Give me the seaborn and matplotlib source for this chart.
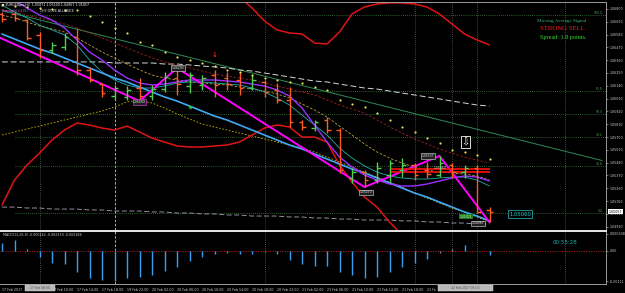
import numpy as np
import pandas as pd
import matplotlib
matplotlib.use("Agg")
import matplotlib.pyplot as plt
import matplotlib.transforms as mtransforms
from matplotlib.patches import Rectangle
import seaborn as sns

sns.set_style("dark", {"axes.facecolor": "black", "figure.facecolor": "black"})
plt.rcParams["font.family"] = ["DejaVu Sans"]

# ---------------- data ----------------
# visible date labels (bar index of each label, text as seen; partly hidden ones shown as seen)
x_label_idx = [0, 4, 6, 8, 10, 12, 14, 16, 18, 20, 22, 24, 26, 28, 30, 32, 34]
x_labels = ["17 Feb 2017", "17 Feb 10:00", "17 Feb 14:00", "17 Feb 18:00",
            "19 Feb 22:00", "20 Feb 02:00", "20 Feb 06:00", "20 Feb 10:00", "20 Feb 14:00",
            "20 Feb 18:00", "20 Feb 22:00", "21 Feb 02:00", "21 Feb 06:00", "21 Feb 10:00",
            "21 Feb 14:00", "21 Feb 18:00", "21 Fe"]

open_ = [1.06757, 1.06757, 1.06705, 1.06577, 1.06448, 1.06473, 1.06559, 1.06276, 1.06155, 1.06052,
         1.06044, 1.06121, 1.06052, 1.06112, 1.06207, 1.06138, 1.06147, 1.06233, 1.06207, 1.06190,
         1.06121, 1.06173, 1.06104, 1.06018, 1.05829, 1.05777, 1.05846, 1.05760, 1.05348, 1.05399,
         1.05330, 1.05373, 1.05416, 1.05459, 1.05416, 1.05373, 1.05459, 1.05399, 1.05434, 1.05071]
high = [1.06774, 1.06774, 1.06714, 1.06602, 1.06516, 1.06594, 1.06637, 1.06302, 1.06164, 1.06147,
        1.06138, 1.06207, 1.06147, 1.06259, 1.06293, 1.06259, 1.06233, 1.06276, 1.06259, 1.06259,
        1.06233, 1.06190, 1.06164, 1.06130, 1.05846, 1.05846, 1.05872, 1.05777, 1.05434, 1.05416,
        1.05485, 1.05502, 1.05519, 1.05477, 1.05485, 1.05537, 1.05477, 1.05459, 1.05459, 1.05100]
low = [1.06688, 1.06697, 1.06534, 1.06379, 1.06422, 1.06448, 1.06233, 1.06173, 1.06044, 1.06018,
       1.06018, 1.06009, 1.06018, 1.06087, 1.06061, 1.06078, 1.06104, 1.06044, 1.06104, 1.06061,
       1.06104, 1.06044, 1.05992, 1.05786, 1.05760, 1.05752, 1.05734, 1.05391, 1.05305, 1.05270,
       1.05305, 1.05313, 1.05356, 1.05330, 1.05348, 1.05356, 1.05348, 1.05348, 1.05047, 1.04967]
close = [1.06714, 1.06723, 1.06551, 1.06448, 1.06491, 1.06559, 1.06276, 1.06190, 1.06078, 1.06121,
         1.06104, 1.06052, 1.06112, 1.06216, 1.06155, 1.06233, 1.06207, 1.06147, 1.06155, 1.06121,
         1.06190, 1.06087, 1.06018, 1.05829, 1.05786, 1.05829, 1.05760, 1.05416, 1.05399, 1.05330,
         1.05434, 1.05477, 1.05459, 1.05373, 1.05382, 1.05477, 1.05399, 1.05434, 1.05056, 1.05057]

ma_blue = [1.06585, 1.06542, 1.06499, 1.06456, 1.06422, 1.06379, 1.06336, 1.06293, 1.06250, 1.06207,
           1.06173, 1.06130, 1.06087, 1.06044, 1.06009, 1.05966, 1.05923, 1.05880, 1.05846, 1.05803,
           1.05760, 1.05717, 1.05674, 1.05631, 1.05597, 1.05554, 1.05511, 1.05468, 1.05425, 1.05391,
           1.05348, 1.05305, 1.05262, 1.05219, 1.05184, 1.05141, 1.05098, 1.05056, 1.05021, 1.04979]
ma_purple = [1.06920, 1.06877, 1.06809, 1.06748, 1.06705, 1.06637, 1.06534, 1.06430, 1.06362, 1.06276,
             1.06207, 1.06164, 1.06147, 1.06155, 1.06173, 1.06190, 1.06190, 1.06190, 1.06181, 1.06173,
             1.06155, 1.06138, 1.06104, 1.06052, 1.05949, 1.05803, 1.05657, 1.05528, 1.05442, 1.05373,
             1.05330, 1.05296, 1.05279, 1.05279, 1.05296, 1.05322, 1.05348, 1.05365, 1.05356, 1.05322]
ma_teal = [1.06834, 1.06774, 1.06723, 1.06662, 1.06620, 1.06577, 1.06491, 1.06362, 1.06259, 1.06190,
           1.06147, 1.06121, 1.06121, 1.06138, 1.06164, 1.06173, 1.06173, 1.06164, 1.06155, 1.06147,
           1.06121, 1.06087, 1.06035, 1.05975, 1.05889, 1.05803, 1.05717, 1.05605, 1.05519, 1.05451,
           1.05399, 1.05365, 1.05348, 1.05339, 1.05339, 1.05348, 1.05356, 1.05356, 1.05330, 1.05279]
ma_olive = [1.06748, 1.06723, 1.06688, 1.06654, 1.06628, 1.06602, 1.06551, 1.06491, 1.06430, 1.06379,
            1.06327, 1.06276, 1.06233, 1.06207, 1.06190, 1.06173, 1.06164, 1.06155, 1.06147, 1.06130,
            1.06112, 1.06095, 1.06070, 1.06035, 1.05984, 1.05932, 1.05872, 1.05794, 1.05717, 1.05640,
            1.05571, 1.05519, 1.05477, 1.05442, 1.05416, 1.05399, 1.05391, 1.05382, 1.05365, 1.05330]
ma_darkred = [1.06791, 1.06774, 1.06748, 1.06723, 1.06697, 1.06671, 1.06637, 1.06594, 1.06551, 1.06508,
              1.06465, 1.06422, 1.06379, 1.06345, 1.06319, 1.06293, 1.06267, 1.06241, 1.06224, 1.06207,
              1.06190, 1.06164, 1.06138, 1.06112, 1.06087, 1.06061, 1.06018, 1.05975, 1.05941, 1.05906,
              1.05846, 1.05786, 1.05734, 1.05683, 1.05640, 1.05597, 1.05562, 1.05528, 1.05502, 1.05477]
ma_white = [1.06345, 1.06345, 1.06345, 1.06345, 1.06345, 1.06345, 1.06345, 1.06345, 1.06345, 1.06336,
            1.06336, 1.06336, 1.06336, 1.06327, 1.06327, 1.06319, 1.06310, 1.06302, 1.06293, 1.06276,
            1.06267, 1.06250, 1.06233, 1.06216, 1.06198, 1.06181, 1.06173, 1.06155, 1.06138, 1.06121,
            1.06112, 1.06095, 1.06078, 1.06061, 1.06044, 1.06027, 1.06009, 1.05992, 1.05975, 1.05966]
ma_gray = [1.05098, 1.05098, 1.05090, 1.05090, 1.05081, 1.05081, 1.05081, 1.05073, 1.05073, 1.05064,
           1.05064, 1.05064, 1.05056, 1.05056, 1.05047, 1.05047, 1.05039, 1.05039, 1.05030, 1.05030,
           1.05021, 1.05021, 1.05021, 1.05013, 1.05013, 1.05004, 1.05004, 1.04995, 1.04995, 1.04987,
           1.04987, 1.04987, 1.04979, 1.04979, 1.04970, 1.04970, 1.04961, 1.04961, 1.04953, 1.04953]
env_lower = [1.05717, 1.05743, 1.05769, 1.05794, 1.05820, 1.05846, 1.05872, 1.05898, 1.05923, 1.05958,
             1.06001, 1.06018, 1.05992, 1.05949, 1.05898, 1.05855, 1.05812, 1.05786, 1.05760, 1.05734,
             1.05709, 1.05683, 1.05657, 1.05631, 1.05605, 1.05571, 1.05528, 1.05485, 1.05442, 1.05399,
             1.05356, 1.05313, 1.05270, 1.05219, 1.05176, 1.05133, 1.05090, 1.05056, 1.05013, 1.04970]
band_upper = [None, None, None, None, None, None, None, None, None, None,
              None, None, 1.07307, 1.07264, 1.07221, 1.07170, 1.07118, 1.07049, 1.06980, 1.06903,
              1.06809, 1.06697, 1.06620, 1.06594, 1.06585, 1.06508, 1.06499, 1.06602, 1.06757, 1.06817,
              1.06843, 1.06852, 1.06852, 1.06843, 1.06817, 1.06757, 1.06671, 1.06585, 1.06534, 1.06491]
band_lower = [1.05116, 1.05330, 1.05459, 1.05562, 1.05674, 1.05760, 1.05820, 1.05803, 1.05777, 1.05760,
              1.05794, 1.05743, 1.05691, 1.05657, 1.05623, 1.05614, 1.05614, 1.05623, 1.05631, 1.05657,
              1.05717, 1.05777, 1.05803, 1.05786, 1.05700, 1.05700, 1.05657, 1.05459, 1.05313, 1.05184,
              1.05098, 1.04970, 1.04858, 1.04772, 1.04729, 1.04712, 1.04703, 1.04712, 1.04729, 1.04746]
sar = [1.06834, 1.06826, 1.06817, 1.06809, 1.06800, 1.06791, 1.06791, 1.06740, 1.06688, 1.06637,
       1.06594, 1.06516, 1.06491, 1.06430, 1.06387, 1.06362, 1.06336, 1.06310, 1.06276, 1.06259,
       1.06233, 1.06207, 1.06190, 1.06173, 1.06164, 1.06130, 1.06104, 1.06018, 1.05984, 1.05958,
       1.05906, 1.05846, 1.05786, 1.05743, 1.05691, 1.05648, 1.05588, 1.05571, 1.05545, 1.05511]

zz_idx = [-1, 11, 14, 29, 35, 39]
zz_price = [1.06594, 1.06009, 1.06293, 1.05270, 1.05537, 1.04967]

fib_trend_idx = [0, 48]
fib_trend_price = [1.06787, 1.05498]
fib_levels = [1.06748, 1.06098, 1.05898, 1.05697, 1.05448, 1.05047]
fib_names = ["100.0", "61.8", "50.0", "38.2", "23.6", "0.0"]

red_levels = [1.05425, 1.05399]

macd = [0.00029, 0.00039, 0.00007, -0.00022, -0.00043, -0.00050, -0.00076, -0.00098, -0.00108, -0.00111,
        -0.00101, -0.00097, -0.00088, -0.00074, -0.00058, -0.00037, -0.00022, -0.00012, -0.00008, -0.00011,
        -0.00011, -0.00004, -0.00013, -0.00034, -0.00050, -0.00055, -0.00055, -0.00076, -0.00087, -0.00098,
        -0.00095, -0.00076, -0.00058, -0.00046, -0.00030, -0.00007, 0.00007, 0.00021, 0.00000, -0.00016]

price_ticks = [1.06800, 1.06690, 1.06580, 1.06470, 1.06360, 1.06250, 1.06140, 1.06030, 1.05920,
               1.05810, 1.05700, 1.05590, 1.05480, 1.05370, 1.05260, 1.05150, 1.05040, 1.04930]
macd_ticks = [0.000608, 0.0, -0.00111]
macd_tick_labels = ["0.000608", "0.00", "-0.00111"]

vline_idx = [3, 9, 21, 33, 36, 38, 45]

# ---------------- figure ----------------
W, H = 625, 293
fig = plt.figure(figsize=(W / 100, H / 100), dpi=100, facecolor="black")


def fx(px):
    return px / W


def fy(py):
    return 1 - py / H


ax = fig.add_axes([0, fy(230), fx(606), fy(2) - fy(230)])
axm = fig.add_axes([0, fy(284), fx(606), fy(231) - fy(284)])
XMIN, XMAX = -0.16, 48.32

for a in (ax, axm):
    a.set_facecolor("black")
    a.set_xlim(XMIN, XMAX)
    a.grid(False)
    for s in a.spines.values():
        s.set_visible(True)
        s.set_color("#9a9a9a")
        s.set_linewidth(0.7)
    a.spines["left"].set_visible(False)
ax.spines["bottom"].set_color("#e8e8e8")
axm.spines["top"].set_color("#e8e8e8")

ax.set_ylim(1.04901, 1.06860)
axm.set_ylim(-0.00121, 0.000717)

idx = np.arange(len(open_))
o = np.array(open_); c = np.array(close); hi = np.array(high); lo = np.array(low)

# vertical separators
for a in (ax, axm):
    for v in vline_idx:
        if v == 9:
            a.axvline(v, color="#c8c8c8", lw=0.6, ls=(0, (3, 2)), zorder=1)
        else:
            a.axvline(v, color="#8a8a8a", lw=0.5, ls=(0, (1, 2)), zorder=1)

# fibonacci
ax.hlines(fib_levels, 1, XMAX, colors="#3d7d3d", lw=0.6, ls=(0, (1, 1.5)), zorder=1)
for lv, nm in zip(fib_levels, fib_names):
    ax.text(XMAX - 0.25, lv, nm, ha="right", va="bottom", fontsize=2.2, color="#4f9f4f")
sns.lineplot(x=fib_trend_idx, y=fib_trend_price, ax=ax, color="#2e8b57", lw=0.7)

# moving averages / bands
line_specs = [
    (ma_gray, "#a8a8b8", 0.6, (0, (6, 3))),
    (ma_white, "#d8d8d8", 0.7, (0, (6, 3))),
    (env_lower, "#c8b400", 0.6, (0, (2, 2))),
    (ma_darkred, "#9b2020", 0.6, (0, (3, 2))),
    (ma_olive, "#b8a040", 0.6, (0, (3, 2))),
    (ma_teal, "#20b2aa", 0.6, "-"),
    (band_upper, "#e01414", 1.1, "-"),
    (band_lower, "#e01414", 1.1, "-"),
    (ma_blue, "#3fa9f5", 1.2, "-"),
    (ma_purple, "#9b30ff", 1.0, "-"),
]
for vals, col, lw, ls in line_specs:
    ser = pd.Series(vals, dtype=float)
    m = ser.notna().to_numpy()
    sns.lineplot(x=idx[m], y=ser.to_numpy()[m], ax=ax, color=col, lw=lw, linestyle=ls)

ax.hlines(red_levels, 31, 39, colors="#e81010", lw=1.3, zorder=3)

# OHLC bars
UP, DN = "#55cc55", "#ff5a28"
cols = np.where(c >= o, UP, DN)
ax.vlines(idx, lo, hi, colors=cols, lw=1.0, zorder=4)
ax.hlines(o, idx - 0.28, idx, colors=cols, lw=1.0, zorder=4)
ax.hlines(c, idx, idx + 0.28, colors=cols, lw=1.0, zorder=4)

# zigzag
sns.lineplot(x=zz_idx, y=zz_price, ax=ax, color="#ff00ff", lw=1.4, sort=False)

# SAR dots
sns.scatterplot(x=idx, y=sar, ax=ax, color="#e8e05a", s=2.5, linewidth=0, zorder=5)

# signals
sns.scatterplot(x=[15], y=[1.05958], ax=ax, color="#33cc33", marker="*", s=14, linewidth=0, zorder=6)
ax.text(17, 1.06405, "↓", color="#ff2020", fontsize=5, fontweight="bold", ha="center", va="center", zorder=6)
ax.text(37.1, 1.05657, "⇩", color="white", fontsize=7, ha="center", va="center", zorder=6,
        bbox=dict(facecolor="black", edgecolor="white", lw=0.6, pad=0.4))

# zigzag labels
zz_offsets = [None, (0, -1), (1, 0), (1.5, -5), (-11.5, 0), (-11.5, -1)]
for k in range(1, len(zz_idx)):
    dx, dy = zz_offsets[k]
    ec = "#ff40ff" if k == 1 else "#e0e0e0"
    ax.annotate(f"{zz_price[k]:.5f}", (zz_idx[k], zz_price[k]), xytext=(dx, dy),
                textcoords="offset pixels", ha="center", va="center", fontsize=2.2, color="#f0f0f0",
                bbox=dict(facecolor="#202020", edgecolor=ec, lw=0.4, pad=0.4), zorder=7)

# right price axis
ax.yaxis.tick_right()
ax.set_yticks(price_ticks)
ax.set_yticklabels([f"{v:.5f}" for v in price_ticks])
ax.tick_params(axis="y", labelsize=2.3, colors="#d0d0d0", length=1.5, width=0.4, pad=1.5)
ax.tick_params(axis="x", bottom=False, labelbottom=False)
ax.set_xlabel(""); ax.set_ylabel("")
blend = mtransforms.blended_transform_factory(ax.transAxes, ax.transData)
ax.text(1.0 + 3 / 606, close[-1], f"{close[-1]:.5f}", transform=blend, ha="left", va="center",
        fontsize=2.3, color="black", clip_on=False, zorder=10,
        bbox=dict(facecolor="white", edgecolor="none", pad=0.4))

# MACD
mcols = ["#7a8ca0" if abs(v) < 0.0001 else "#3a9ff0" for v in macd]
axm.vlines(idx, 0, macd, colors=mcols, lw=1.0, zorder=3)
axm.axhline(0, color="#c02020", lw=0.7, ls=(0, (1, 1.5)), zorder=2)
axm.yaxis.tick_right()
axm.set_yticks(macd_ticks)
axm.set_yticklabels(macd_tick_labels)
axm.tick_params(axis="y", labelsize=2.3, colors="#d0d0d0", length=1.5, width=0.4, pad=1.5)
axm.set_xticks(x_label_idx)
axm.set_xticklabels(x_labels, ha="left")
axm.tick_params(axis="x", labelsize=2.3, colors="#d0d0d0", length=1.5, width=0.4, pad=1.2)
axm.set_xlabel(""); axm.set_ylabel("")

# texts
fig.text(fx(2), fy(5), "▼ EURUSDpro,H2  1.05071 1.05100 1.04967 1.05057", fontsize=2.3,
         color="white", va="center")
fig.text(fx(2), fy(11), "Copyright(c)2017,", fontsize=2.3, color="#b070ff", va="center")
fig.text(fx(40), fy(11), "THE DOVE ALLIANCE", fontsize=2.3, color="#e8e8e8", va="center")
fig.text(fx(562), fy(21), "Moving Average Signal", fontsize=3.7, family="Liberation Serif",
         color="#3cb371", ha="center", va="center")
fig.text(fx(562), fy(29), "STRONG SELL", fontsize=4.9, family="Liberation Serif",
         color="#ff1a1a", ha="center", va="center")
fig.text(fx(563), fy(37), "Spread: 1.8 points.", fontsize=4.4, family="Liberation Serif",
         color="#33dd33", ha="center", va="center")
fig.text(fx(520), fy(214), "1.05060", fontsize=3.8, color="#1fd1d1", ha="center", va="center",
         bbox=dict(facecolor="black", edgecolor="#1fa0a0", lw=0.6, pad=0.8))
fig.text(fx(466), fy(216.5), "1.05021", fontsize=2.2, color="#c8ffc8", ha="center", va="center",
         bbox=dict(facecolor="#1e7a1e", edgecolor="none", pad=0.3))
fig.text(fx(440), fy(168), "1.05460", fontsize=2.2, color="#dddddd", ha="center", va="center")
fig.text(fx(3), fy(235), "MACD(12,26,9) -0.000142 -0.002330 -0.002188", fontsize=2.3,
         color="#d0d0d0", va="center")
fig.text(fx(565), fy(243), "00:55:28", fontsize=4.0, color="#20b2aa", ha="center", va="center")

# crosshair time boxes in the date row
for (x0, x1, label) in [(25, 55, "17 Feb 08:00"), (438, 493, "22 Feb 2017 04:00")]:
    fig.patches.append(Rectangle((fx(x0), fy(291)), fx(x1) - fx(x0), fy(284.5) - fy(291),
                                 transform=fig.transFigure, facecolor="#b8b8b8", edgecolor="#e0e0e0",
                                 lw=0.3, zorder=20))
    fig.text(fx((x0 + x1) / 2), fy(287.8), label, fontsize=2.2, color="#505050", ha="center",
             va="center", zorder=21)

fig.savefig("out.png", dpi=100, facecolor="black")
